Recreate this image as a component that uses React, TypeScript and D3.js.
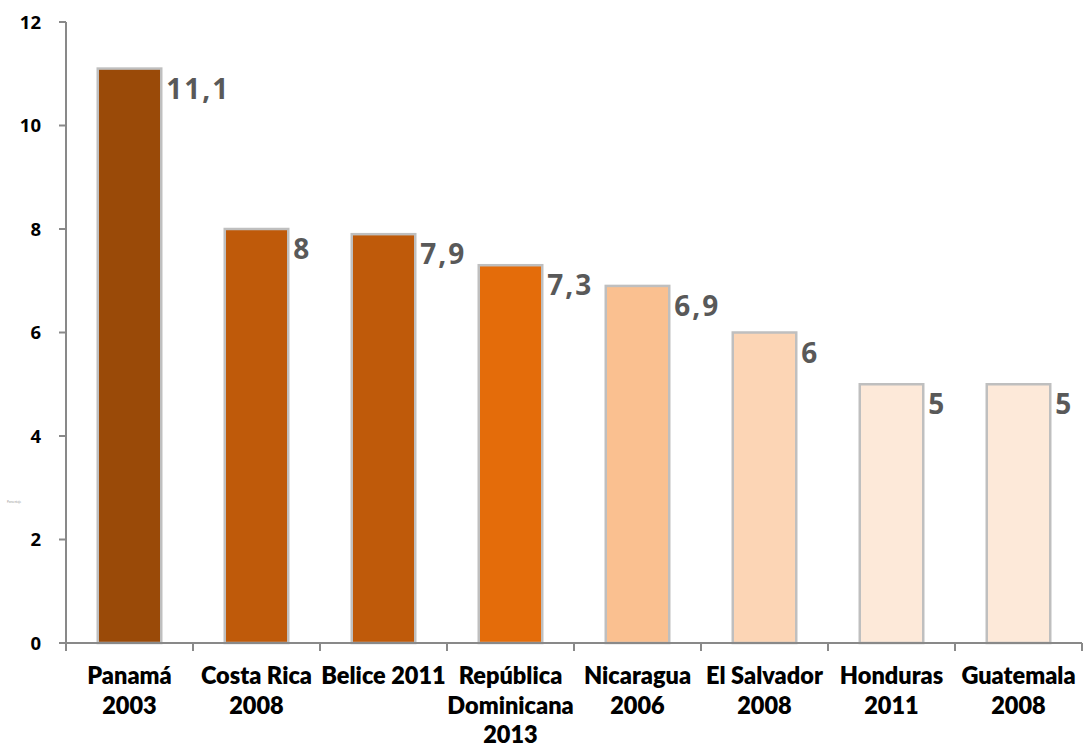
import React from "react";
import * as d3 from "d3";

const categories = [
  "Panamá 2003",
  "Costa Rica 2008",
  "Belice 2011",
  "República Dominicana 2013",
  "Nicaragua 2006",
  "El Salvador 2008",
  "Honduras 2011",
  "Guatemala 2008",
];
const categoryLines = [
  ["Panamá", "2003"],
  ["Costa Rica", "2008"],
  ["Belice 2011"],
  ["República", "Dominicana", "2013"],
  ["Nicaragua", "2006"],
  ["El Salvador", "2008"],
  ["Honduras", "2011"],
  ["Guatemala", "2008"],
];
const values = [11.1, 8, 7.9, 7.3, 6.9, 6, 5, 5];
const barColors = [
  "#9a4a08",
  "#bf5a0a",
  "#bf5a0a",
  "#e46c0a",
  "#fac090",
  "#fcd5b5",
  "#fde9d9",
  "#fde9d9",
];
const yTicks = [0, 2, 4, 6, 8, 10, 12];

const W = 1084;
const H = 749;

export default function App() {
  const x = d3
    .scaleBand<string>()
    .domain(categories)
    .range([66, 1082])
    .paddingInner(0.5)
    .paddingOuter(0.25);
  const y = d3.scaleLinear().domain([0, 12]).range([643, 22]);
  const step = x.step();
  const axisColor = "#898989";
  const fmt = (v: number) => String(v).replace(".", ",");

  return (
    <svg
      width={W}
      height={H}
      style={{ position: "absolute", left: 0, top: 0, background: "#fff" }}
    >
      {/* tiny note */}
      <text x={7} y={503} fontSize={3} fill="#999" fontFamily="Lato">
        Porcentaje
      </text>

      {/* bars */}
      {categories.map((c, i) => (
        <rect
          key={c}
          x={x(c)!}
          y={y(values[i])}
          width={x.bandwidth()}
          height={y(0) - y(values[i])}
          fill={barColors[i]}
          stroke="#bfbfbf"
          strokeWidth={2.5}
        />
      ))}

      {/* value labels */}
      {categories.map((c, i) => (
        <text
          key={"v" + c}
          x={x(c)! + x.bandwidth() + 5}
          y={y(values[i]) + 30}
          fontFamily="'Open Sans', Lato, sans-serif"
          fontWeight={700}
          fontSize={28}
          letterSpacing={2}
          fill="#595959"
        >
          {fmt(values[i])}
        </text>
      ))}

      {/* y axis */}
      <line x1={66} x2={66} y1={y(12)} y2={y(0)} stroke={axisColor} strokeWidth={2} />
      {yTicks.map((t) => (
        <g key={"yt" + t}>
          <line x1={59} x2={66} y1={y(t)} y2={y(t)} stroke={axisColor} strokeWidth={2} />
          <text
            x={41}
            y={y(t)}
            dy="0.36em"
            textAnchor="end"
            fontFamily="'Open Sans', sans-serif"
            fontWeight={700}
            fontSize={18.5}
            fill="#000"
          >
            {t}
          </text>
        </g>
      ))}

      {/* x axis */}
      <line x1={66} x2={1082} y1={y(0)} y2={y(0)} stroke={axisColor} strokeWidth={2} />
      {d3.range(categories.length + 1).map((k) => (
        <line
          key={"xt" + k}
          x1={66 + k * step}
          x2={66 + k * step}
          y1={y(0)}
          y2={y(0) + 8}
          stroke={axisColor}
          strokeWidth={2}
        />
      ))}
      {categories.map((c, i) => (
        <text
          key={"xl" + c}
          x={x(c)! + x.bandwidth() / 2}
          y={684}
          textAnchor="middle"
          fontFamily="Lato, sans-serif"
          fontWeight={800}
          fontSize={23.5}
          fill="#000"
        >
          {categoryLines[i].map((l, j) => (
            <tspan key={j} x={x(c)! + x.bandwidth() / 2} dy={j === 0 ? 0 : 29.5}>
              {l}
            </tspan>
          ))}
        </text>
      ))}
    </svg>
  );
}
